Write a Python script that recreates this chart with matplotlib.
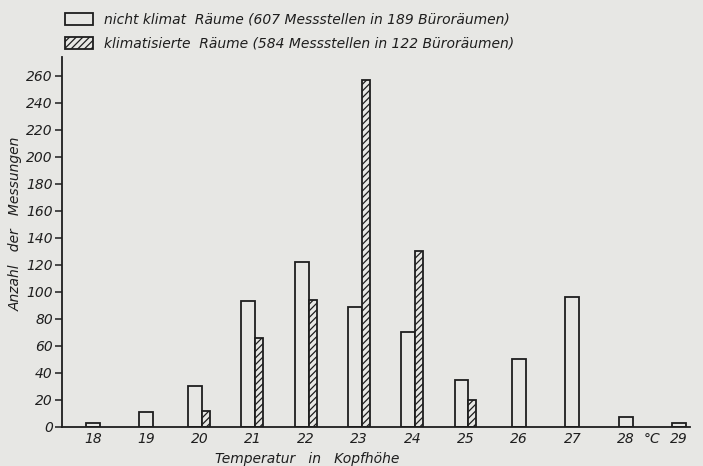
import numpy as np
import matplotlib.pyplot as plt
from matplotlib.patches import Patch

# values
temps = [18, 19, 20, 21, 22, 23, 24, 25, 26, 27, 28, 29]
nicht_klimat = [3, 11, 30, 93, 122, 89, 70, 35, 50, 96, 7, 3]
klimatisiert = [0, 0, 12, 66, 94, 257, 130, 20, 0, 0, 0, 0]
yticks = list(range(0, 261, 20))

paper = '#e7e7e4'
ink = '#1e1e1e'

plt.rcParams['font.family'] = ['DejaVu Sans']
plt.rcParams['hatch.color'] = ink
plt.rcParams['hatch.linewidth'] = 0.9

fig = plt.figure(figsize=(7.03, 4.66), dpi=100, facecolor=paper)
ax = fig.add_axes([0.088, 0.084, 0.893, 0.794])
ax.set_facecolor(paper)

x = np.array(temps, dtype=float)
has_k = np.array(klimatisiert) > 0
w_n, w_k = 0.26, 0.15
x_n = np.where(has_k, x - 0.08, x)

ax.bar(x_n, nicht_klimat, width=w_n, facecolor=paper, edgecolor=ink, linewidth=1.3)
ax.bar(x[has_k] + 0.05 + w_k / 2, np.array(klimatisiert)[has_k], width=w_k,
       facecolor=paper, edgecolor=ink, linewidth=1.3, hatch='/////')

ax.set_xlim(17.42, 29.2)
ax.set_ylim(0, 274)
ax.set_xticks(temps)
ax.set_xticklabels([str(t) for t in temps], fontstyle='italic', fontsize=10)
ax.set_yticks(yticks)
ax.set_yticklabels([str(v) for v in yticks], fontstyle='italic', fontsize=10)
ax.tick_params(axis='x', length=0, pad=4, colors=ink)
ax.tick_params(axis='y', direction='out', length=5, width=1.1, pad=1.5, colors=ink)

for s in ['top', 'right']:
    ax.spines[s].set_visible(False)
for s in ['left', 'bottom']:
    ax.spines[s].set_linewidth(1.3)
    ax.spines[s].set_color(ink)

ax.text(28.33, -9, '°C', fontstyle='italic', fontsize=10, color=ink,
        ha='left', va='center', clip_on=False)

ax.set_xlabel('Temperatur   in   Kopfhöhe', fontstyle='italic', fontsize=10,
              color=ink)
ax.xaxis.set_label_coords(0.39, -0.068)
fig.text(0.022, 0.52, 'Anzahl   der   Messungen', rotation=90, fontstyle='italic',
         fontsize=10, color=ink, ha='center', va='center')

handles = [Patch(facecolor=paper, edgecolor=ink, linewidth=1.3),
           Patch(facecolor=paper, edgecolor=ink, linewidth=1.3, hatch='/////')]
labels = ['nicht klimat  Räume (607 Messstellen in 189 Büroräumen)',
          'klimatisierte  Räume (584 Messstellen in 122 Büroräumen)']
leg = fig.legend(handles, labels, loc='upper left', bbox_to_anchor=(0.075, 1.0),
                 frameon=False, handlelength=2.0, handleheight=1.0,
                 handletextpad=0.8, labelspacing=0.75,
                 prop={'style': 'italic', 'size': 10})
for t in leg.get_texts():
    t.set_color(ink)

fig.savefig('out.png', dpi=100, facecolor=paper)
